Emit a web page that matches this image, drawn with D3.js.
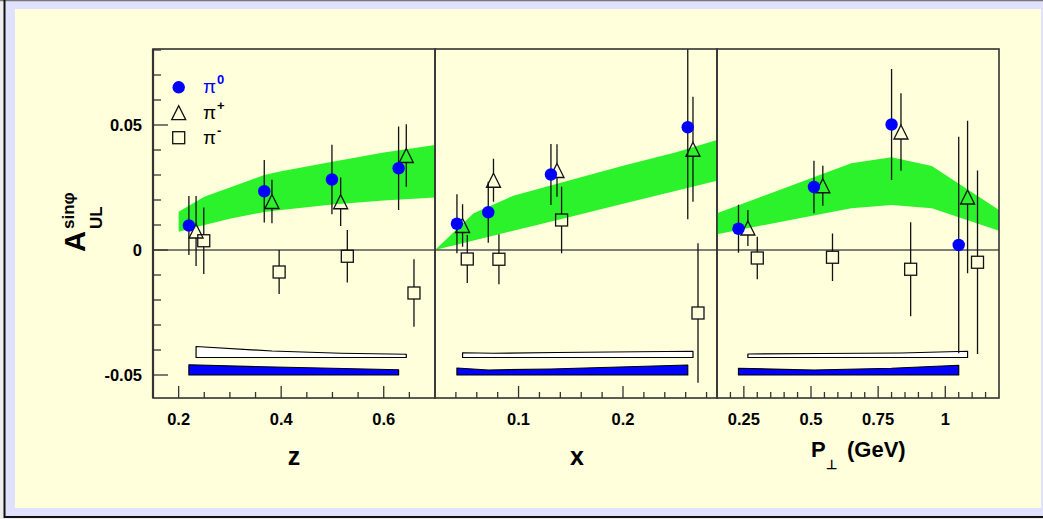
<!DOCTYPE html>
<html><head><meta charset="utf-8">
<script src="https://cdn.jsdelivr.net/npm/d3@7"></script>
<style>html,body{margin:0;padding:0;background:#fff;}svg{display:block;font-family:"Liberation Sans",Arial,sans-serif;}</style>
</head><body>
<svg id="c" width="1043" height="519"></svg>
<script>
// ---------------- data ----------------
const yTicks = [-0.05, 0, 0.05];
const yTickLabels = ["-0.05", "0", "0.05"];

// z panel
const zTicks = [0.2, 0.4, 0.6];
const zTickLabels = ["0.2", "0.4", "0.6"];
const zPi0 = [0.22, 0.367, 0.499, 0.629];
const zPi0Val = [0.0098, 0.0235, 0.0282, 0.0327];
const zPi0Err = [0.0118, 0.0125, 0.0139, 0.0167];
const zPiP = [0.234, 0.382, 0.516, 0.644];
const zPiPVal = [0.0076, 0.0194, 0.0193, 0.0378];
const zPiPErr = [0.0140, 0.0087, 0.0097, 0.0125];
const zPiM = [0.249, 0.396, 0.529, 0.659];
const zPiMVal = [0.0037, -0.0088, -0.0025, -0.0172];
const zPiMErr = [0.0133, 0.0088, 0.0105, 0.0135];
const zPi0Sys = [0.0041, 0.0033, 0.0027, 0.0021];
const zPiPSys = [0.0044, 0.0026, 0.0017, 0.0013];
const zBand = [0.2, 0.25, 0.3, 0.367, 0.4, 0.5, 0.6, 0.7];
const zBandHi = [0.0153, 0.0213, 0.025, 0.030, 0.0315, 0.0353, 0.039, 0.042];
const zBandLo = [0.0073, 0.010, 0.0125, 0.0152, 0.016, 0.0182, 0.0198, 0.021];

// x panel
const xTicks = [0.1, 0.2];
const xTickLabels = ["0.1", "0.2"];
const xPi0 = [0.041, 0.071, 0.131, 0.262];
const xPi0Val = [0.0105, 0.0151, 0.0302, 0.0491];
const xPi0Err = [0.0118, 0.0122, 0.0122, 0.0368];
const xPiP = [0.0464, 0.076, 0.1368, 0.267];
const xPiPVal = [0.0098, 0.0279, 0.0318, 0.0403];
const xPiPErr = [0.0085, 0.0086, 0.0105, 0.0210];
const xPiM = [0.0509, 0.0812, 0.1412, 0.2718];
const xPiMVal = [-0.0036, -0.0037, 0.0120, -0.0252];
const xPiMErr = [0.0096, 0.0100, 0.0133, 0.0279];
const xPi0Sys = [0.0028, 0.0020, 0.0024, 0.0040];
const xPiPSys = [0.0019, 0.0017, 0.0020, 0.0025];
const xBand = [0.02, 0.057, 0.095, 0.15, 0.2, 0.25, 0.29];
const xBandHi = [0.0, 0.0147, 0.0217, 0.028, 0.0337, 0.039, 0.044];
const xBandLo = [0.0, 0.0038, 0.0077, 0.0133, 0.0185, 0.0236, 0.0277];

// P_perp panel
const pTicks = [0.25, 0.5, 0.75, 1];
const pTickLabels = ["0.25", "0.5", "0.75", "1"];
const pPi0 = [0.23, 0.511, 0.80, 1.05];
const pPi0Val = [0.0085, 0.0252, 0.0502, 0.0020];
const pPi0Err = [0.0096, 0.0105, 0.0222, 0.0433];
const pPiP = [0.265, 0.544, 0.835, 1.083];
const pPiPVal = [0.0088, 0.0257, 0.0472, 0.0212];
const pPiPErr = [0.0072, 0.0080, 0.0155, 0.0305];
const pPiM = [0.30, 0.58, 0.871, 1.12];
const pPiMVal = [-0.0032, -0.0029, -0.0077, -0.0049];
const pPiMErr = [0.0085, 0.0095, 0.0188, 0.0367];
const pPi0Sys = [0.0027, 0.0020, 0.0027, 0.0039];
const pPiPSys = [0.0014, 0.0016, 0.0018, 0.0025];
const pBand = [0.15, 0.25, 0.5, 0.65, 0.8, 0.95, 1.2];
const pBandHi = [0.0147, 0.0187, 0.0287, 0.0347, 0.0371, 0.0336, 0.016];
const pBandLo = [0.0063, 0.0084, 0.0136, 0.0167, 0.018, 0.0167, 0.0077];

const pi0SysBase = -0.050;
const piPSysBase = -0.043;

// ---------------- drawing ----------------
const svg = d3.select("#c");
const CREAM = "#ffffdc", LAV = "#e0e0ff", BLUE = "#0000ff", GREEN = "#2cf22c";

svg.append("rect").attr("width", 1043).attr("height", 519).attr("fill", "#eeeeee");
svg.append("rect").attr("x", 4).attr("y", 1).attr("width", 1039).attr("height", 516).attr("fill", LAV);
svg.append("line").attr("x1", 0).attr("x2", 1043).attr("y1", 0.5).attr("y2", 0.5).attr("stroke", "#777").attr("stroke-width", 1.5);
svg.append("line").attr("x1", 4.5).attr("x2", 4.5).attr("y1", 0).attr("y2", 518).attr("stroke", "#111").attr("stroke-width", 2);
svg.append("line").attr("x1", 4).attr("x2", 1043).attr("y1", 517).attr("y2", 517).attr("stroke", "#111").attr("stroke-width", 2);
svg.append("rect").attr("x", 15).attr("y", 9).attr("width", 1026).attr("height", 499).attr("fill", CREAM);

const y = d3.scaleLinear().domain([-0.0592, 0.0804]).range([398, 49]);
const TOP = 49, BOT = 398;

const panels = [
  { dom: [0.15, 0.70], rng: [153, 435], ticks: zTicks, labels: zTickLabels, minor: d3.range(0.2, 0.7, 0.05),
    pi0: [zPi0, zPi0Val, zPi0Err, zPi0Sys], pip: [zPiP, zPiPVal, zPiPErr, zPiPSys], pim: [zPiM, zPiMVal, zPiMErr],
    band: [zBand, zBandLo, zBandHi] },
  { dom: [0.02, 0.29], rng: [435, 717], ticks: xTicks, labels: xTickLabels, minor: d3.range(0.04, 0.29, 0.02),
    pi0: [xPi0, xPi0Val, xPi0Err, xPi0Sys], pip: [xPiP, xPiPVal, xPiPErr, xPiPSys], pim: [xPiM, xPiMVal, xPiMErr],
    band: [xBand, xBandLo, xBandHi] },
  { dom: [0.15, 1.20], rng: [717, 999], ticks: pTicks, labels: pTickLabels, minor: d3.range(0.2, 1.19, 0.05),
    pi0: [pPi0, pPi0Val, pPi0Err, pPi0Sys], pip: [pPiP, pPiPVal, pPiPErr, pPiPSys], pim: [pPiM, pPiMVal, pPiMErr],
    band: [pBand, pBandLo, pBandHi] }
];

function clampY(v) { return Math.max(TOP, Math.min(BOT, y(v))); }

panels.forEach((p, pi) => {
  const x = d3.scaleLinear().domain(p.dom).range(p.rng);
  const g = svg.append("g");
  // theory band
  const bandPts = p.band[0].map((v, i) => ({ x: v, lo: p.band[1][i], hi: p.band[2][i] }));
  g.append("path").datum(bandPts)
    .attr("d", d3.area().x(d => x(d.x)).y0(d => y(d.lo)).y1(d => y(d.hi)))
    .attr("fill", GREEN);
  // zero line
  g.append("line").attr("x1", p.rng[0]).attr("x2", p.rng[1]).attr("y1", y(0)).attr("y2", y(0))
    .attr("stroke", "#555").attr("stroke-width", 1.3);
  // systematic bands
  const sysArea = (base) => d3.area().x(d => x(d.x)).y0(y(base)).y1(d => y(base + d.s));
  const sp = p.pip[0].map((v, i) => ({ x: v, s: p.pip[3][i] }));
  g.append("path").datum(sp).attr("d", sysArea(piPSysBase)).attr("fill", "#ffffff").attr("stroke", "#000").attr("stroke-width", 1.2).attr("stroke-linejoin", "round");
  const s0 = p.pi0[0].map((v, i) => ({ x: v, s: p.pi0[3][i] }));
  g.append("path").datum(s0).attr("d", sysArea(pi0SysBase)).attr("fill", BLUE).attr("stroke", "#000").attr("stroke-width", 1.2).attr("stroke-linejoin", "round");

  // error bars
  function bars(arr, gapUp, gapDn) {
    arr[0].forEach((v, i) => {
      const cx = x(v), cy = y(arr[1][i]);
      const yt = clampY(arr[1][i] + arr[2][i]), yb = clampY(arr[1][i] - arr[2][i]);
      if (yt < cy - gapUp) g.append("line").attr("x1", cx).attr("x2", cx).attr("y1", yt).attr("y2", cy - gapUp).attr("stroke", "#111").attr("stroke-width", 1.3);
      if (yb > cy + gapDn) g.append("line").attr("x1", cx).attr("x2", cx).attr("y1", cy + gapDn).attr("y2", yb).attr("stroke", "#111").attr("stroke-width", 1.3);
    });
  }
  bars(p.pim, 6, 6);
  bars(p.pip, 7, 7);
  bars(p.pi0, 0, 0);
  // markers
  p.pim[0].forEach((v, i) => {
    g.append("rect").attr("x", x(v) - 6).attr("y", y(p.pim[1][i]) - 6).attr("width", 12).attr("height", 12)
      .attr("fill", "none").attr("stroke", "#111").attr("stroke-width", 1.3);
  });
  p.pip[0].forEach((v, i) => {
    const cx = x(v), cy = y(p.pip[1][i]);
    g.append("path").attr("d", `M${cx},${cy - 7}L${cx + 7},${cy + 7}L${cx - 7},${cy + 7}Z`)
      .attr("fill", "none").attr("stroke", "#111").attr("stroke-width", 1.3);
  });
  p.pi0[0].forEach((v, i) => {
    g.append("circle").attr("cx", x(v)).attr("cy", y(p.pi0[1][i])).attr("r", 6.2).attr("fill", BLUE);
  });

  // frame
  g.append("rect").attr("x", p.rng[0]).attr("y", TOP).attr("width", p.rng[1] - p.rng[0]).attr("height", BOT - TOP)
    .attr("fill", "none").attr("stroke", "#333").attr("stroke-width", 1.6);
  // bottom ticks
  p.minor.forEach(t => {
    if (p.ticks.some(m => Math.abs(m - t) < 1e-6)) return;
    g.append("line").attr("x1", x(t)).attr("x2", x(t)).attr("y1", BOT).attr("y2", BOT - 6).attr("stroke", "#333").attr("stroke-width", 1.3);
  });
  p.ticks.forEach((t, i) => {
    g.append("line").attr("x1", x(t)).attr("x2", x(t)).attr("y1", BOT).attr("y2", BOT - 12).attr("stroke", "#333").attr("stroke-width", 1.3);
    g.append("text").attr("x", x(t)).attr("y", 425).attr("text-anchor", "middle")
      .attr("font-size", 16.5).attr("font-weight", "bold").attr("fill", "#000").text(p.labels[i]);
  });
});

// left y axis
svg.append("line").attr("x1", 153).attr("x2", 153).attr("y1", TOP).attr("y2", BOT).attr("stroke", "#333").attr("stroke-width", 2.2);
d3.range(-0.05, 0.0805, 0.01).forEach(t => {
  const major = yTicks.some(m => Math.abs(m - t) < 1e-6);
  svg.append("line").attr("x1", 153).attr("x2", 153 + (major ? 15 : 8)).attr("y1", y(t)).attr("y2", y(t))
    .attr("stroke", "#333").attr("stroke-width", 1.3);
});
yTicks.forEach((t, i) => {
  svg.append("text").attr("x", 142).attr("y", y(t) + 6).attr("text-anchor", "end")
    .attr("font-size", 16.5).attr("font-weight", "bold").text(yTickLabels[i]);
});

// axis titles
svg.append("text").attr("x", 294).attr("y", 465).attr("text-anchor", "middle").attr("font-size", 25).attr("font-weight", "bold").text("z");
svg.append("text").attr("x", 577).attr("y", 465).attr("text-anchor", "middle").attr("font-size", 25).attr("font-weight", "bold").text("x");
svg.append("text").attr("x", 811).attr("y", 457).attr("font-size", 22).attr("font-weight", "bold").text("P");
svg.append("text").attr("x", 826).attr("y", 469).attr("font-size", 13).attr("font-weight", "bold").text("⊥");
svg.append("text").attr("x", 847).attr("y", 457).attr("font-size", 22).attr("font-weight", "bold").text("(GeV)");

// y title
svg.append("text").attr("transform", "translate(85,252) rotate(-90)").attr("font-size", 29).attr("font-weight", "bold").text("A");
svg.append("text").attr("transform", "translate(102,229) rotate(-90)").attr("font-size", 17).attr("font-weight", "bold").text("UL");
svg.append("text").attr("transform", "translate(74,229) rotate(-90)").attr("font-size", 17).attr("font-weight", "bold").text("sinφ");

// legend
svg.append("circle").attr("cx", 178.7).attr("cy", 87.3).attr("r", 6.2).attr("fill", BLUE);
svg.append("path").attr("d", "M178.7,105.7L185.7,119.7L171.7,119.7Z").attr("fill", "none").attr("stroke", "#111").attr("stroke-width", 1.3);
svg.append("rect").attr("x", 172.7).attr("y", 131.7).attr("width", 12).attr("height", 12).attr("fill", "none").attr("stroke", "#111").attr("stroke-width", 1.3);
const legTxt = [["0", BLUE, 93], ["+", "#000", 119], ["-", "#000", 144]];
legTxt.forEach(([s, c, by]) => {
  svg.append("text").attr("x", 203).attr("y", by).attr("font-size", 19).attr("fill", c).text("π");
  svg.append("text").attr("x", 217).attr("y", by - 9).attr("font-size", 13).attr("font-weight", "bold").attr("fill", c).text(s);
});
</script>
</body></html>
